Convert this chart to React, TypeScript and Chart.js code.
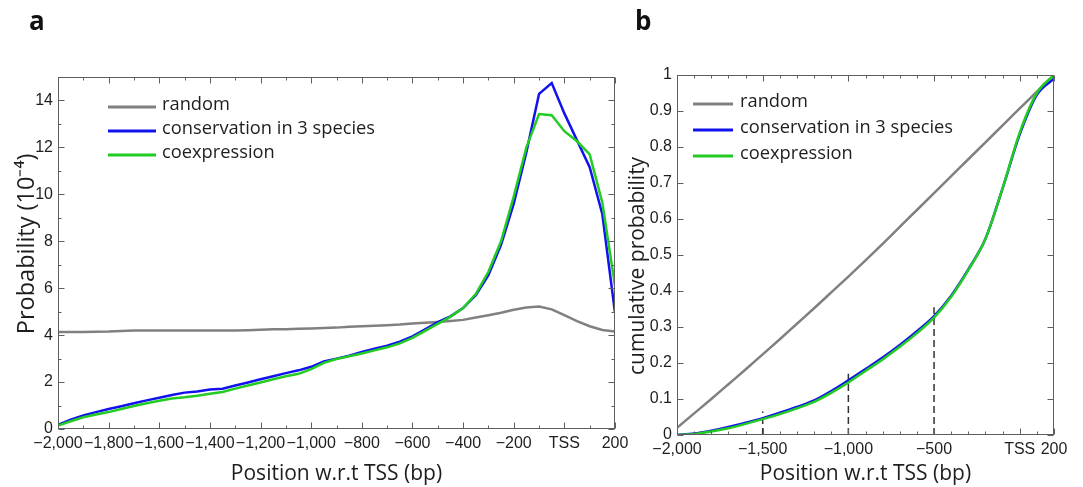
import React, { useEffect, useRef } from "react";
import { Chart, registerables } from "chart.js";

Chart.register(...registerables);

// ---------------- data ----------------
const seriesLabels = ["random", "conservation in 3 species", "coexpression"];

// panel a : probability density (10^-4) vs position
const densityPositions = [
  -2000, -1950, -1900, -1850, -1800, -1750, -1700, -1650, -1600, -1550,
  -1500, -1450, -1400, -1350, -1300, -1250, -1200, -1150, -1100, -1050,
  -1000, -950, -900, -850, -800, -750, -700, -650, -600, -550,
  -500, -450, -400, -350, -300, -250, -200, -150, -100, -50,
  0, 50, 100, 150, 200,
];
const randomDensity = [
  4.13, 4.13, 4.13, 4.14, 4.15, 4.18, 4.2, 4.2, 4.2, 4.2,
  4.2, 4.2, 4.2, 4.2, 4.2, 4.21, 4.23, 4.25, 4.25, 4.27,
  4.28, 4.3, 4.32, 4.36, 4.38, 4.4, 4.42, 4.45, 4.5, 4.53,
  4.56, 4.6, 4.65, 4.75, 4.85, 4.95, 5.08, 5.18, 5.22, 5.1,
  4.85, 4.6, 4.38, 4.22, 4.15,
];
const conservationDensity = [
  0.18, 0.4, 0.58, 0.72, 0.85, 0.97, 1.1, 1.22, 1.33, 1.45,
  1.55, 1.6, 1.68, 1.72, 1.85, 1.98, 2.12, 2.25, 2.38, 2.5,
  2.65, 2.88, 3.0, 3.12, 3.28, 3.42, 3.55, 3.72, 3.95, 4.25,
  4.55, 4.8, 5.15, 5.7, 6.55, 7.85, 9.6, 11.8, 14.28, 14.74,
  13.45, 12.3, 11.16, 9.15, 4.95,
];
const coexpressionDensity = [
  0.15, 0.33, 0.5, 0.62, 0.72, 0.85, 0.98, 1.1, 1.2, 1.3,
  1.35, 1.42, 1.5, 1.58, 1.72, 1.85, 1.98, 2.12, 2.25, 2.35,
  2.55, 2.82, 2.98, 3.1, 3.22, 3.35, 3.48, 3.65, 3.88, 4.18,
  4.48, 4.78, 5.15, 5.75, 6.7, 8.0, 9.9, 12.0, 13.42, 13.37,
  12.69, 12.26, 11.7, 9.64, 6.1,
];

// panel b : cumulative probability vs position
const cumulativePositions = [
  -2000, -1900, -1800, -1700, -1600, -1500, -1400, -1300, -1200, -1100,
  -1000, -900, -800, -700, -600, -500, -400, -300, -200, -100,
  0, 100, 200,
];
const randomCumulative = [
  0.02, 0.06, 0.1, 0.141, 0.182, 0.224, 0.266, 0.309, 0.352, 0.396,
  0.44, 0.485, 0.531, 0.578, 0.625, 0.672, 0.719, 0.766, 0.813, 0.86,
  0.907, 0.954, 1.0,
];
const conservationCumulative = [
  0, 0.004, 0.012, 0.022, 0.034, 0.047, 0.062, 0.078, 0.096, 0.122,
  0.152, 0.183, 0.215, 0.25, 0.288, 0.33, 0.387, 0.46, 0.545, 0.685,
  0.835, 0.945, 0.99,
];
const coexpressionCumulative = [
  0, 0.003, 0.01, 0.019, 0.031, 0.044, 0.058, 0.074, 0.092, 0.117,
  0.146, 0.178, 0.21, 0.245, 0.283, 0.326, 0.384, 0.458, 0.545, 0.685,
  0.84, 0.95, 1.0,
];
const markerPositions = [-1500, -1000, -500];
const markerHeights = [0.065, 0.17, 0.355];

// ticks
const densityXTicks = [-2000, -1800, -1600, -1400, -1200, -1000, -800, -600, -400, -200, 0, 200];
const densityXTickLabels = ["\u22122,000", "\u22121,800", "\u22121,600", "\u22121,400", "\u22121,200", "\u22121,000", "\u2212800", "\u2212600", "\u2212400", "\u2212200", "TSS", "200"];
const densityYTicks = [0, 2, 4, 6, 8, 10, 12, 14];
const densityYTickLabels = ["0", "2", "4", "6", "8", "10", "12", "14"];

const cumulativeXTicks = [-2000, -1500, -1000, -500, 0, 200];
const cumulativeXTickLabels = ["\u22122,000", "\u22121,500", "\u22121,000", "\u2212500", "TSS", "200"];
const cumulativeYTicks = [0, 0.1, 0.2, 0.3, 0.4, 0.5, 0.6, 0.7, 0.8, 0.9, 1];
const cumulativeYTickLabels = ["0", "0.1", "0.2", "0.3", "0.4", "0.5", "0.6", "0.7", "0.8", "0.9", "1"];

// ---------------- styles ----------------
const GRAY = "#808080";
const BLUE = "#1212ee";
const GREEN = "#22cc22";
const AXIS = "#5e5e5e";
const TEXT = "#1e1e1e";
const TICK_FONT = { family: "'Liberation Sans', Arial, sans-serif", size: 16 };
const TITLE_FAMILY = "'Open Sans', sans-serif";
const LEGEND_FONT = "18.3px 'Open Sans', sans-serif";

function range(a: number, b: number, step: number) {
  const out: number[] = [];
  for (let v = a; v <= b + 1e-9; v += step) out.push(Math.round(v * 1000) / 1000);
  return out;
}

const framePlugin = {
  id: "frame",
  afterDatasetsDraw(chart: any, _args: any, opts: any) {
    const { ctx, chartArea, scales } = chart;
    const { left, right, top, bottom } = chartArea;
    const xs = scales.x;
    const ys = scales.y;
    ctx.save();
    ctx.strokeStyle = opts.color;
    ctx.lineWidth = 1;
    const L = Math.round(left) + 0.5;
    const R = Math.round(right) - 0.5;
    const T = Math.round(top) + 0.5;
    const B = Math.round(bottom) - 0.5;
    ctx.strokeRect(L, T, R - L, B - T);
    const line = (x1: number, y1: number, x2: number, y2: number) => {
      ctx.beginPath();
      ctx.moveTo(x1, y1);
      ctx.lineTo(x2, y2);
      ctx.stroke();
    };
    const drawX = (vals: number[], len: number) => {
      vals.forEach((v) => {
        const p = Math.round(xs.getPixelForValue(v)) + 0.5;
        line(p, B, p, B - len);
        line(p, T, p, T + len);
      });
    };
    const drawY = (vals: number[], len: number) => {
      vals.forEach((v) => {
        const p = Math.round(ys.getPixelForValue(v)) + 0.5;
        line(L, p, L + len, p);
        line(R, p, R - len, p);
      });
    };
    drawX(opts.xMajor, 6);
    drawX(opts.xMinor, 3);
    drawY(opts.yMajor, 6);
    drawY(opts.yMinor, 3);
    ctx.restore();
  },
};

const legendPlugin = {
  id: "insideLegend",
  afterDraw(chart: any, _args: any, opts: any) {
    const { ctx } = chart;
    ctx.save();
    ctx.font = opts.font;
    ctx.textBaseline = "middle";
    ctx.fillStyle = TEXT;
    opts.labels.forEach((label: string, i: number) => {
      const ds = chart.data.datasets.find((d: any) => d.label === label);
      const y = opts.y + i * opts.spacing;
      ctx.strokeStyle = ds.borderColor;
      ctx.lineWidth = 3;
      ctx.beginPath();
      ctx.moveTo(opts.x, y);
      ctx.lineTo(opts.x + opts.lineLength, y);
      ctx.stroke();
      ctx.fillText(label, opts.x + opts.lineLength + opts.gap, y - 2);
    });
    ctx.restore();
  },
};

function pts(xs: number[], ys: number[]) {
  return xs.map((x, i) => ({ x, y: ys[i] }));
}

function makeScales(p: any) {
  return {
    x: {
      type: "linear",
      min: p.xMin,
      max: p.xMax,
      afterBuildTicks: (s: any) => {
        s.ticks = p.xTicks.map((v: number) => ({ value: v }));
      },
      afterFit: (s: any) => {
        s.height = p.xHeight;
      },
      grid: { display: false, drawTicks: false },
      border: { display: false },
      ticks: {
        autoSkip: false,
        maxRotation: 0,
        padding: 5,
        color: TEXT,
        font: TICK_FONT,
        callback: (v: number) => p.xLabels[p.xTicks.indexOf(v)],
      },
      title: {
        display: true,
        text: p.xTitle,
        color: TEXT,
        font: { family: TITLE_FAMILY, size: p.titleSize },
        padding: { top: 0, bottom: p.xTitlePad },
      },
    },
    y: {
      type: "linear",
      min: p.yMin,
      max: p.yMax,
      afterBuildTicks: (s: any) => {
        s.ticks = p.yTicks.map((v: number) => ({ value: v }));
      },
      afterFit: (s: any) => {
        s.width = p.yWidth;
      },
      grid: { display: false, drawTicks: false },
      border: { display: false },
      ticks: {
        padding: 5,
        color: TEXT,
        font: TICK_FONT,
        callback: (v: number) => p.yLabels[p.yTicks.indexOf(v)],
      },
      title: {
        display: true,
        text: p.yTitle,
        color: TEXT,
        font: { family: TITLE_FAMILY, size: p.yTitleSize },
        padding: { top: p.yTitlePad, bottom: 0 },
      },
    },
  };
}

function useChart(ref: React.RefObject<HTMLCanvasElement>, build: () => any) {
  useEffect(() => {
    if (!ref.current) return;
    const chart = new Chart(ref.current, build());
    return () => chart.destroy();
  }, []);
}

function DensityChart() {
  const ref = useRef<HTMLCanvasElement>(null);
  useChart(ref, () => ({
    type: "line",
    data: {
      datasets: [
        { label: seriesLabels[2], data: pts(densityPositions, coexpressionDensity), borderColor: GREEN, order: 0 },
        { label: seriesLabels[1], data: pts(densityPositions, conservationDensity), borderColor: BLUE, order: 1 },
        { label: seriesLabels[0], data: pts(densityPositions, randomDensity), borderColor: GRAY, order: 2 },
      ].map((d) => ({ ...d, borderWidth: 2.5, pointRadius: 0, tension: 0, fill: false })),
    },
    options: {
      animation: false,
      responsive: false,
      events: [],
      layout: { padding: { top: 77, right: 25, left: 0, bottom: 0 } },
      scales: makeScales({
        xMin: -2000, xMax: 200, xTicks: densityXTicks, xLabels: densityXTickLabels, xHeight: 58,
        xTitle: "Position w.r.t TSS (bp)", titleSize: 21, xTitlePad: 0,
        yMin: 0, yMax: 15, yTicks: densityYTicks, yLabels: densityYTickLabels, yWidth: 58,
        yTitle: "\u00A0\u00A0\u00A0Probability (10\u207B\u2074)", yTitleSize: 23.5, yTitlePad: 13,
      }),
      plugins: {
        legend: { display: false },
        tooltip: { enabled: false },
        frame: {
          color: AXIS,
          xMajor: densityXTicks,
          xMinor: range(-1900, 100, 200),
          yMajor: densityYTicks,
          yMinor: range(1, 15, 2),
        },
        insideLegend: {
          labels: seriesLabels,
          x: 108, y: 107, spacing: 24, lineLength: 48, gap: 6,
          font: LEGEND_FONT,
        },
      },
    },
    plugins: [framePlugin, legendPlugin],
  }));
  return <canvas ref={ref} width={640} height={487} style={{ position: "absolute", left: 0, top: 0 }} />;
}

function CumulativeChart() {
  const ref = useRef<HTMLCanvasElement>(null);
  useChart(ref, () => ({
    type: "line",
    data: {
      datasets: [
        { label: seriesLabels[2], data: pts(cumulativePositions, coexpressionCumulative), borderColor: GREEN, order: 0 },
        { label: seriesLabels[1], data: pts(cumulativePositions, conservationCumulative), borderColor: BLUE, order: 1 },
        { label: seriesLabels[0], data: pts(cumulativePositions, randomCumulative), borderColor: GRAY, order: 2 },
      ]
        .map((d) => ({ ...d, borderWidth: 2.5, pointRadius: 0, cubicInterpolationMode: "monotone", fill: false }))
        .concat(
          markerPositions.map((x, i) => ({
            label: "marker" + i,
            data: [{ x, y: 0 }, { x, y: markerHeights[i] }],
            borderColor: "#333333",
            borderWidth: 1.5,
            borderDash: [7, 4],
            pointRadius: 0,
            order: 3,
            fill: false,
          })) as any
        ),
    },
    options: {
      animation: false,
      responsive: false,
      events: [],
      layout: { padding: { top: 75, right: 29, left: 0, bottom: 0 } },
      scales: makeScales({
        xMin: -2000, xMax: 200, xTicks: cumulativeXTicks, xLabels: cumulativeXTickLabels, xHeight: 52,
        xTitle: "Position w.r.t TSS (bp)", titleSize: 21, xTitlePad: 0,
        yMin: 0, yMax: 1, yTicks: cumulativeYTicks, yLabels: cumulativeYTickLabels, yWidth: 77,
        yTitle: "cumulative probability\u00A0\u00A0\u00A0\u00A0", yTitleSize: 21, yTitlePad: 25,
      }),
      plugins: {
        legend: { display: false },
        tooltip: { enabled: false },
        frame: {
          color: AXIS,
          xMajor: cumulativeXTicks,
          xMinor: range(-1900, 100, 100).filter((v) => !cumulativeXTicks.includes(v)),
          yMajor: cumulativeYTicks,
          yMinor: [],
        },
        insideLegend: {
          labels: seriesLabels,
          x: 93, y: 104, spacing: 26, lineLength: 40, gap: 7,
          font: LEGEND_FONT,
        },
      },
    },
    plugins: [framePlugin, legendPlugin],
  }));
  return <canvas ref={ref} width={483} height={487} style={{ position: "absolute", left: 600, top: 0 }} />;
}

const panelLabel: React.CSSProperties = {
  position: "absolute",
  fontFamily: "'Open Sans', sans-serif",
  fontWeight: 700,
  fontSize: 26,
  lineHeight: "26px",
  color: "#111",
};

export default function App() {
  return (
    <div style={{ position: "absolute", left: 0, top: 0, width: 1083, height: 487, background: "#fff", overflow: "hidden" }}>
      <CumulativeChart />
      <DensityChart />
      <div style={{ ...panelLabel, left: 29, top: 7 }}>a</div>
      <div style={{ ...panelLabel, left: 635, top: 7 }}>b</div>
    </div>
  );
}
